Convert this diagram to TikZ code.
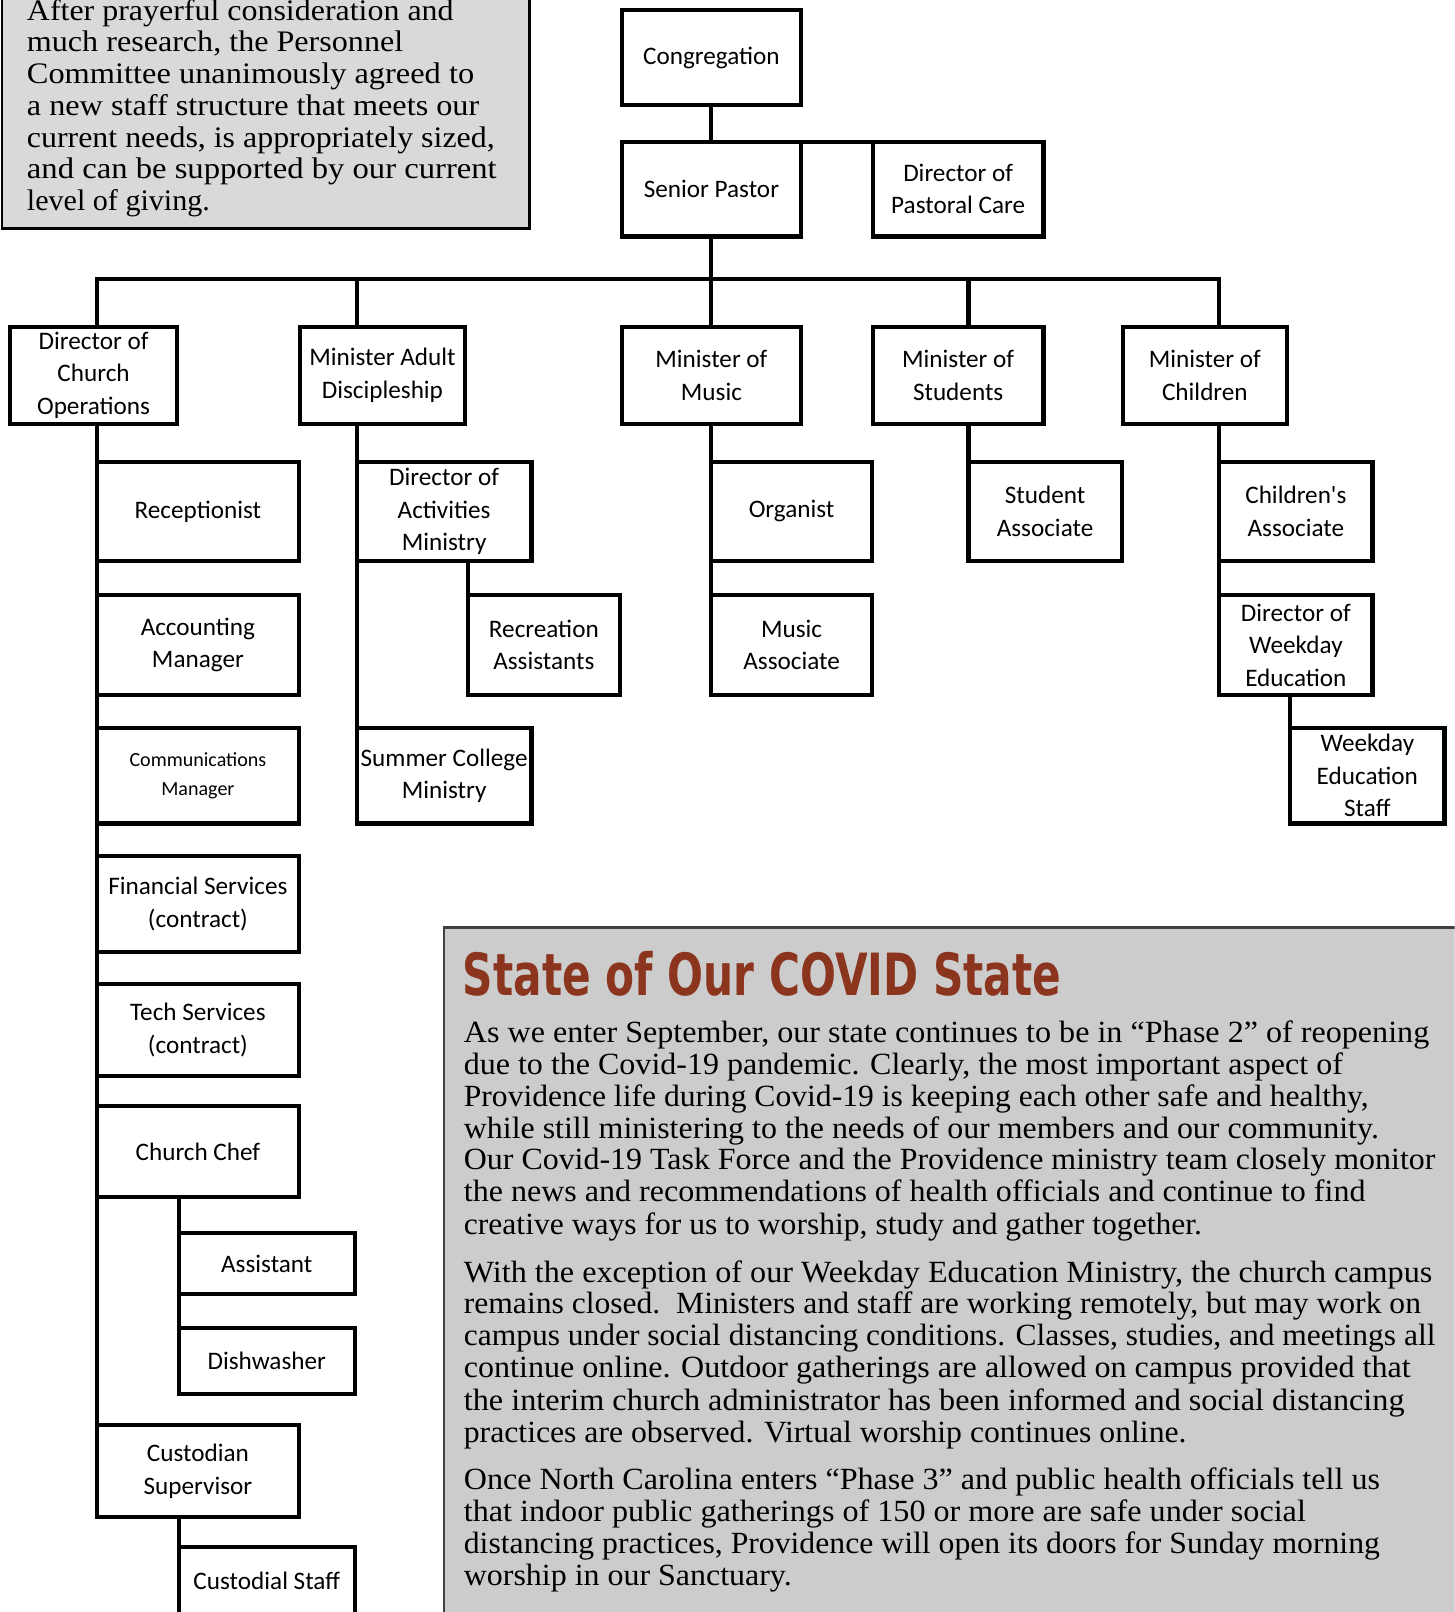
\documentclass[tikz,border=0pt]{standalone}
\usepackage{fontspec}
\usepackage{graphicx}
\setmainfont{Liberation Serif}
\newfontfamily\boxfont{Carlito}
\newfontfamily\headfont{DejaVu Sans}
\definecolor{notegray}{HTML}{D9D9D9}
\definecolor{covidgray}{HTML}{CCCCCC}
\definecolor{rust}{RGB}{139,52,30}
\tikzset{
  orgbox/.style={draw, line width=4pt, fill=white, align=center, inner sep=0pt, outer sep=0pt,
    font=\boxfont\fontsize{24.5}{31.5}\selectfont},
  smallbox/.style={font=\boxfont\fontsize{19.5}{28}\selectfont},
  link/.style={line width=4pt},
  noteline/.style={anchor=base west, inner sep=0pt, font=\fontsize{29}{31}\selectfont},
  covline/.style={anchor=base west, inner sep=0pt, font=\fontsize{30}{31}\selectfont},
}
\newcommand\orgnode[7][]{\node[orgbox,#1, minimum width={(#4-#2)*1pt}, minimum height={(#5-#3)*1pt}] (#6) at ({(#2+#4)/2},{(#3+#5)/2}) {#7};}
\newcommand\noteln[4]{\node[noteline] (#1) at (26,#2) {\resizebox{#3pt}{\height}{#4}};}
\newcommand\covln[4]{\node[covline] (#1) at (451,#2) {\resizebox{#3pt}{\height}{#4}};}
\begin{document}
\begin{tikzpicture}[x=1pt,y=-1pt]
\useasboundingbox (0,0) rectangle (1415,1568);
\clip (0,0) rectangle (1415,1568);

% note box top-left
\draw[line width=2.5pt, fill=notegray] (2,-10) rectangle (515,222);
\noteln{n1}{20}{415}{After prayerful consideration and}
\noteln{n2}{50}{366}{much research, the Personnel}
\noteln{n3}{81}{435}{Committee unanimously agreed to}
\noteln{n4}{112}{440}{a new staff structure that meets our}
\noteln{n5}{143}{455}{current needs, is appropriately sized,}
\noteln{n6}{174}{457}{and can be supported by our current}
\noteln{n7}{205}{178}{level of giving.}

% COVID box
\draw[line width=2.5pt, draw=black!75, fill=covidgray] (432,902) rectangle (1440,1590);
\node[anchor=south west, inner sep=0pt, text=rust] (title) at (450,969)
  {\resizebox{582pt}{43pt}{\headfont\bfseries State of Our COVID State}};
\covln{a1}{1014}{939}{As we enter September, our state continues to be in “Phase 2” of reopening}
\covln{a2}{1045}{855}{due to the Covid-19 pandemic. Clearly, the most important aspect of}
\covln{a3}{1076}{880}{Providence life during Covid-19 is keeping each other safe and healthy,}
\covln{a4}{1107}{890}{while still ministering to the needs of our members and our community.}
\covln{a5}{1138}{945}{Our Covid-19 Task Force and the Providence ministry team closely monitor}
\covln{a6}{1169}{877}{the news and recommendations of health officials and continue to find}
\covln{a7}{1201}{718}{creative ways for us to worship, study and gather together.}
\covln{b1}{1247}{942}{With the exception of our Weekday Education Ministry, the church campus}
\covln{b2}{1278}{931}{remains closed.\ \ Ministers and staff are working remotely, but may work on}
\covln{b3}{1309}{945}{campus under social distancing conditions. Classes, studies, and meetings all}
\covln{b4}{1340}{921}{continue online. Outdoor gatherings are allowed on campus provided that}
\covln{b5}{1372}{915}{the interim church administrator has been informed and social distancing}
\covln{b6}{1403}{703}{practices are observed. Virtual worship continues online.}
\covln{c1}{1449}{891}{Once North Carolina enters “Phase 3” and public health officials tell us}
\covln{c2}{1480}{819}{that indoor public gatherings of 150 or more are safe under social}
\covln{c3}{1511}{891}{distancing practices, Providence will open its doors for Sunday morning}
\covln{c4}{1542}{319}{worship in our Sanctuary.}

% org boxes
\orgnode{605}{10}{779}{102}{cong}{Congregation}
\orgnode{605}{138}{779}{230}{sp}{Senior Pastor}
\orgnode{849}{138}{1015}{230}{dpc}{Director of\\Pastoral Care}
\orgnode{10}{318}{172}{412}{dco}{Director of\\Church\\Operations}
\orgnode{292}{318}{452}{412}{mad}{Minister Adult\\Discipleship}
\orgnode{605}{318}{779}{412}{mm}{Minister of\\Music}
\orgnode{849}{318}{1015}{412}{ms}{Minister of\\Students}
\orgnode{1092}{318}{1252}{412}{mc}{Minister of\\Children}
\orgnode{94}{449}{291}{546}{rec}{Receptionist}
\orgnode{94}{579}{291}{676}{acc}{Accounting\\Manager}
\orgnode[smallbox]{94}{708}{291}{801}{com}{Communications\\Manager}
\orgnode{94}{833}{291}{926}{fin}{Financial Services\\(contract)}
\orgnode{94}{957}{291}{1047}{tech}{Tech Services\\(contract)}
\orgnode{94}{1076}{291}{1164}{chef}{Church Chef}
\orgnode{174}{1199}{345}{1259}{asst}{Assistant}
\orgnode{174}{1292}{345}{1356}{dish}{Dishwasher}
\orgnode{94}{1386}{291}{1476}{cs}{Custodian\\Supervisor}
\orgnode{174}{1505}{345}{1570}{cstaff}{Custodial Staff}
\orgnode{347}{449}{517}{546}{dam}{Director of\\Activities\\Ministry}
\orgnode{455}{579}{603}{676}{ra}{Recreation\\Assistants}
\orgnode{347}{708}{517}{801}{scm}{Summer College\\Ministry}
\orgnode{692}{449}{848}{546}{org}{Organist}
\orgnode{692}{579}{848}{676}{ma}{Music\\Associate}
\orgnode{942}{449}{1091}{546}{sa}{Student\\Associate}
\orgnode{1186}{449}{1335}{546}{ca}{Children's\\Associate}
\orgnode{1186}{579}{1335}{676}{dwe}{Director of\\Weekday\\Education}
\orgnode{1255}{708}{1405}{801}{wes}{Weekday\\Education\\Staff}

% connectors
\coordinate (bus) at (692,271);
\draw[link] (cong.south) -- (sp.north);
\draw[link] (sp.north) -- (dpc.north west);
\draw[link] (sp.south) -- (bus);
\draw[link] (dco.north -| rec.west) |- (bus) -| (mc.north -| ca.west);
\draw[link] (bus -| dam.west) -- (mad.north -| dam.west);
\draw[link] (bus) -- (mm.north);
\draw[link] (bus -| sa.west) -- (ms.north -| sa.west);
\draw[link] (dco.south -| rec.west) -- (cs.north west);
\draw[link] (mad.south -| dam.west) -- (scm.north west);
\draw[link] (dam.south -| ra.west) -- (ra.north west);
\draw[link] (mm.south) -- (ma.north west);
\draw[link] (ms.south -| sa.west) -- (sa.north west);
\draw[link] (mc.south -| ca.west) -- (dwe.north west);
\draw[link] (dwe.south -| wes.west) -- (wes.north west);
\draw[link] (chef.south -| asst.west) -- (dish.north west);
\draw[link] (cs.south -| cstaff.west) -- (cstaff.north west);
\end{tikzpicture}
\end{document}
